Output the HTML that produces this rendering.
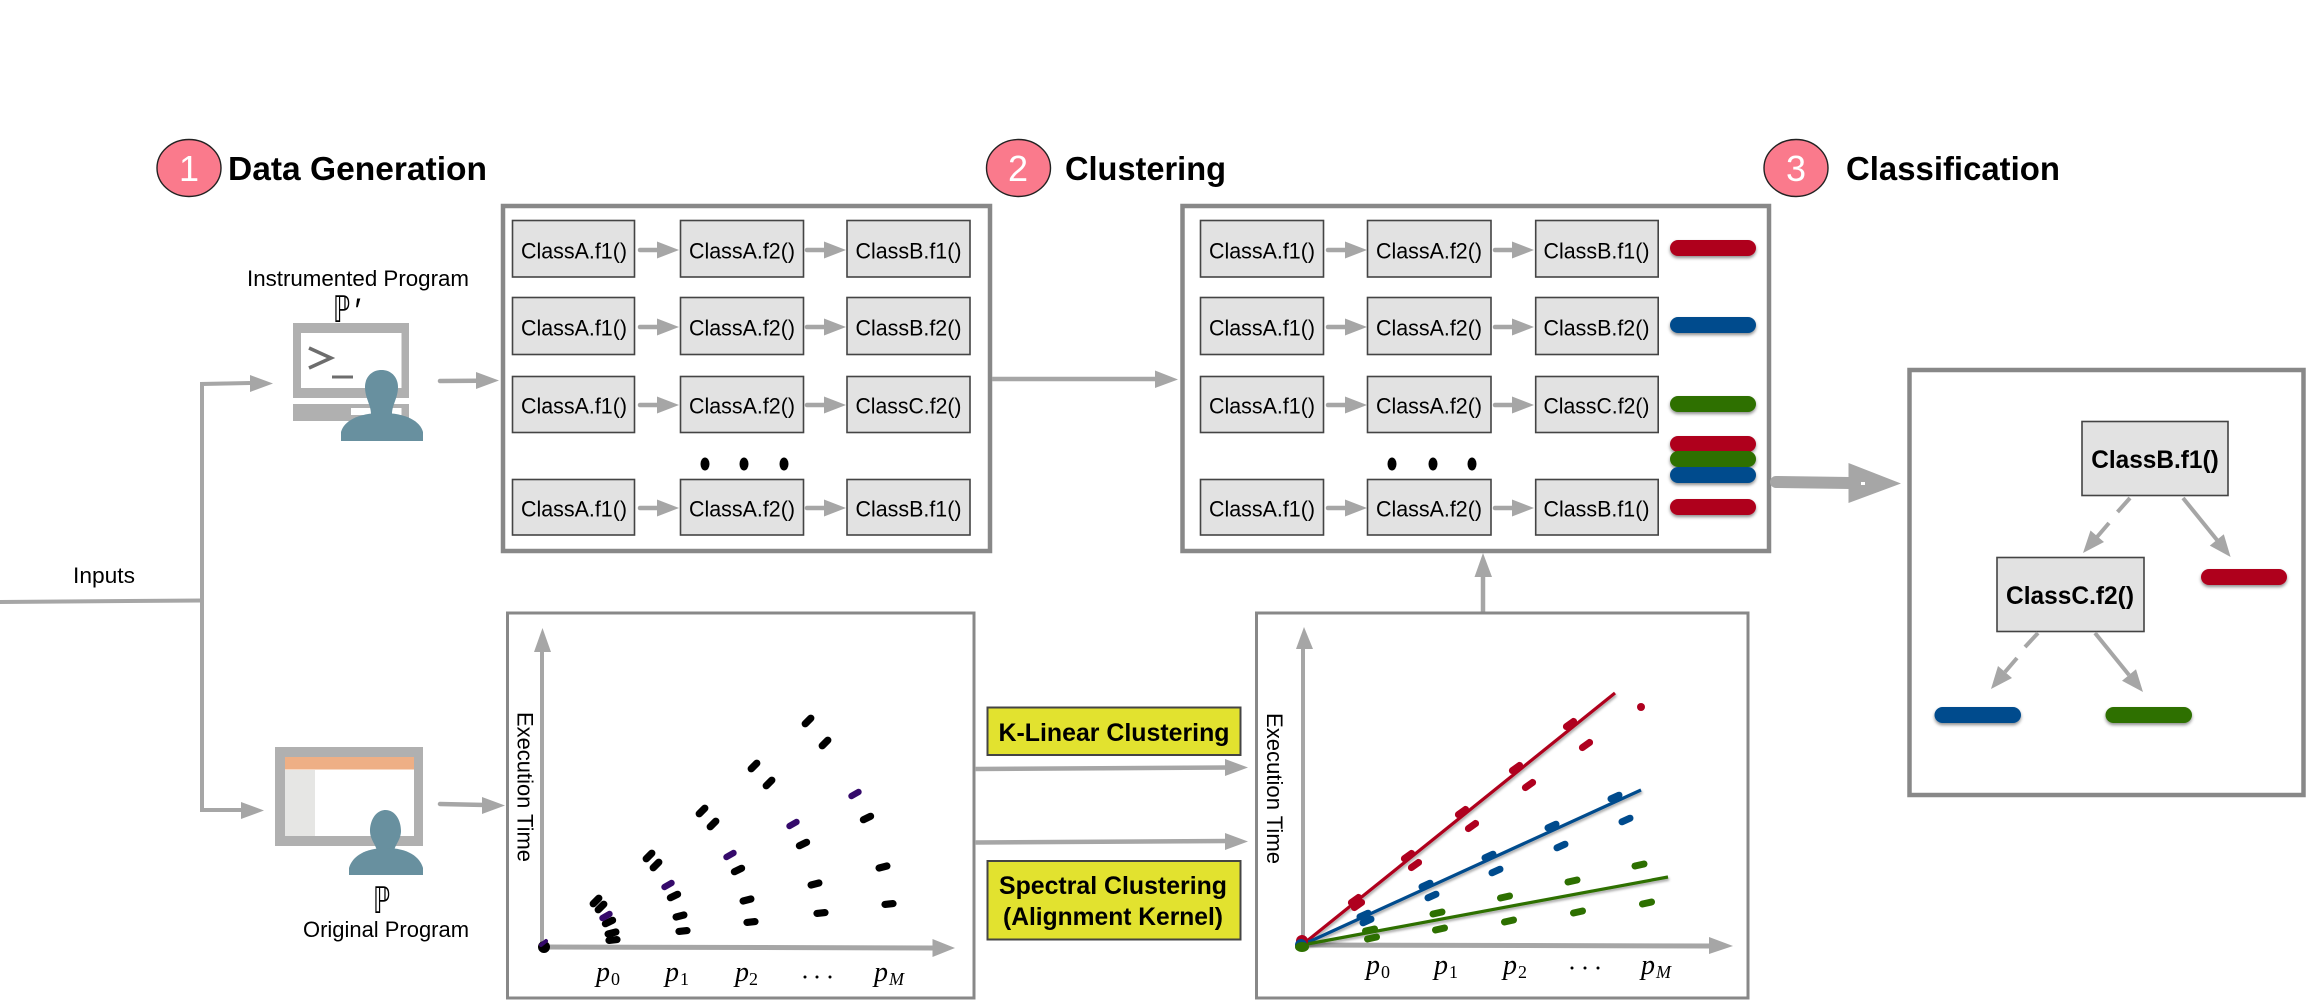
<!DOCTYPE html>
<html><head><meta charset="utf-8"><title>Pipeline</title>
<style>
html,body{margin:0;padding:0;background:#fff}
svg{display:block}
text{font-family:"Liberation Sans",sans-serif;fill:#000}
.h{font-weight:700;font-size:33px}
.n{font-size:36px;fill:#fff;text-anchor:middle}
.c{font-size:22.5px;text-anchor:middle}
.l{font-size:22px}
.b{font-weight:700;font-size:25px;text-anchor:middle}
.p{font-family:"Liberation Serif",serif;font-style:italic;font-size:28px}
.s{font-family:"Liberation Serif",serif;font-size:18px}
.m{font-family:"DejaVu Sans",sans-serif;font-size:34px;font-weight:400}
.box{fill:#e2e2e2;stroke:#444;stroke-width:1.6}
.fr{fill:#fff;stroke:#888;stroke-width:4.5}
.fr2{fill:#fff;stroke:#888;stroke-width:3}
.ln{stroke:#a6a6a6;stroke-width:4;fill:none}
.hd{fill:#a6a6a6}
.per{fill:#68909f}
</style></head>
<body>
<svg xmlns="http://www.w3.org/2000/svg" width="2306" height="1005" viewBox="0 0 2306 1005">
<defs>
<filter id="sh" x="-20%" y="-60%" width="140%" height="240%"><feDropShadow dx="0" dy="2" stdDeviation="1.5" flood-color="#000" flood-opacity=".45"/></filter>
<filter id="sl" x="-5%" y="-5%" width="110%" height="110%"><feDropShadow dx="1" dy="2" stdDeviation="1.2" flood-color="#000" flood-opacity=".35"/></filter>
<g id="sa"><line x1="0" y1="0" x2="18" y2="0" stroke="#a6a6a6" stroke-width="4.5" stroke-linecap="round"/><polygon points="17,-8.5 39,0 17,8.5" fill="#a6a6a6"/></g>
<line id="d1" x1="-2.8" y1="2.8" x2="2.8" y2="-2.8" stroke-width="7.2" stroke-linecap="round"/>
<line id="d3" x1="-3.5" y1="2" x2="3.5" y2="-2" stroke-width="6.4" stroke-linecap="round"/>
<line id="d4" x1="-3.6" y1="1.7" x2="3.6" y2="-1.7" stroke-width="7.2" stroke-linecap="round"/>
<line id="d5" x1="-3.9" y1="1" x2="3.9" y2="-1" stroke-width="7.2" stroke-linecap="round"/>
<line id="d6" x1="-4" y1=".4" x2="4" y2="-.4" stroke-width="7.2" stroke-linecap="round"/>
<line id="r" x1="-3.6" y1="2.6" x2="3.6" y2="-2.6" stroke-width="7" stroke-linecap="round"/>
<line id="u" x1="-4" y1="1.8" x2="4" y2="-1.8" stroke-width="7" stroke-linecap="round"/>
<line id="g" x1="-4.5" y1="1" x2="4.5" y2="-1" stroke-width="7" stroke-linecap="round"/>
</defs>

<!-- headers -->
<ellipse cx="189" cy="168" rx="32" ry="28.5" fill="#fa7a8c" stroke="#222" stroke-width="1.4"/>
<text class="n" x="189" y="181">1</text>
<text class="h" x="228" y="180" textLength="259" lengthAdjust="spacingAndGlyphs">Data Generation</text>
<ellipse cx="1018.5" cy="168" rx="32" ry="28.5" fill="#fa7a8c" stroke="#222" stroke-width="1.4"/>
<text class="n" x="1018" y="181">2</text>
<text class="h" x="1065" y="180" textLength="161" lengthAdjust="spacingAndGlyphs">Clustering</text>
<ellipse cx="1796" cy="168" rx="32" ry="28.5" fill="#fa7a8c" stroke="#222" stroke-width="1.4"/>
<text class="n" x="1796" y="181">3</text>
<text class="h" x="1846" y="180" textLength="214" lengthAdjust="spacingAndGlyphs">Classification</text>

<!-- inputs -->
<text class="l" x="73" y="583" textLength="62" lengthAdjust="spacingAndGlyphs">Inputs</text>
<polyline class="ln" points="0,602 202,600.5"/>
<polyline class="ln" points="250,383 202,384 202,810 243,810"/>
<polygon class="hd" points="250,375 273,383.5 250,392"/>
<polygon class="hd" points="241,802 264,810.5 241,819"/>

<!-- instrumented program -->
<text class="l" x="247" y="286" textLength="222" lengthAdjust="spacingAndGlyphs">Instrumented Program</text>
<text class="m" transform="translate(333,322) scale(.72,1.08)">ℙ</text><text x="353" y="322" font-size="34" font-style="italic" font-family="Liberation Serif,serif">′</text>
<rect x="293" y="323" width="116" height="75" fill="#b0b0b0"/>
<rect x="301" y="333" width="100.5" height="55" fill="#fff"/>
<rect x="293" y="404" width="116" height="17" fill="#b0b0b0"/>
<rect x="351" y="408" width="50.5" height="7" fill="#fff"/>
<polyline points="309,348 331,358 309,368" fill="none" stroke="#6d6d6d" stroke-width="3.5"/>
<rect x="332" y="375.5" width="21" height="3" fill="#6d6d6d"/>
<path class="per" d="M381.5 370C392 370 398 378 398 387C398 398 392 405 392 414H371C371 405 365 398 365 387C365 378 371 370 381.5 370Z"/>
<path class="per" d="M341 441V432C344 421 358 413 382 413C406 413 420 421 423 432V441Z"/>
<line x1="440" y1="381" x2="478" y2="380.7" stroke="#a6a6a6" stroke-width="4.5" stroke-linecap="round"/>
<polygon class="hd" points="476,372 499,380.5 476,389"/>

<!-- original program -->
<rect x="275" y="747" width="148" height="99" fill="#b0b0b0"/>
<rect x="285" y="757" width="129" height="79" fill="#fff"/>
<rect x="285" y="757" width="129" height="12.5" fill="#eeaf85"/>
<rect x="285" y="770" width="30" height="66" fill="#e6e6e4"/>
<path class="per" d="M385.5 810C395 810 401 820 401 831C401 840 394 846 394 852H377C377 846 370 840 370 831C370 820 376 810 385.5 810Z"/>
<path class="per" d="M349 875V868C352 857 364 848 386 848C408 848 420 857 423 868V875Z"/>
<text class="m" transform="translate(373,913) scale(.72,1.08)">ℙ</text>
<text class="l" x="303" y="937" textLength="166" lengthAdjust="spacingAndGlyphs">Original Program</text>
<line x1="440" y1="804" x2="485" y2="805" stroke="#a6a6a6" stroke-width="4.5" stroke-linecap="round"/>
<polygon class="hd" points="482,797 505,805.5 482,814"/>

<!-- box 1 -->
<rect class="fr" x="503" y="206" width="487" height="345"/>
<g>
<rect class="box" x="512.5" y="220.5" width="122" height="56.5"/><rect class="box" x="680.5" y="220.5" width="123" height="56.5"/><rect class="box" x="847" y="220.5" width="123" height="56.5"/>
<rect class="box" x="512.5" y="297.5" width="122" height="57"/><rect class="box" x="680.5" y="297.5" width="123" height="57"/><rect class="box" x="847" y="297.5" width="123" height="57"/>
<rect class="box" x="512.5" y="376.5" width="122" height="56"/><rect class="box" x="680.5" y="376.5" width="123" height="56"/><rect class="box" x="847" y="376.5" width="123" height="56"/>
<rect class="box" x="512.5" y="479.5" width="122" height="55.5"/><rect class="box" x="680.5" y="479.5" width="123" height="55.5"/><rect class="box" x="847" y="479.5" width="123" height="55.5"/>
</g>
<g>
<text class="c" x="574" y="258.5" textLength="106" lengthAdjust="spacingAndGlyphs">ClassA.f1()</text><text class="c" x="742" y="258.5" textLength="106" lengthAdjust="spacingAndGlyphs">ClassA.f2()</text><text class="c" x="908.5" y="258.5" textLength="106" lengthAdjust="spacingAndGlyphs">ClassB.f1()</text>
<text class="c" x="574" y="335.5" textLength="106" lengthAdjust="spacingAndGlyphs">ClassA.f1()</text><text class="c" x="742" y="335.5" textLength="106" lengthAdjust="spacingAndGlyphs">ClassA.f2()</text><text class="c" x="908.5" y="335.5" textLength="106" lengthAdjust="spacingAndGlyphs">ClassB.f2()</text>
<text class="c" x="574" y="413.5" textLength="106" lengthAdjust="spacingAndGlyphs">ClassA.f1()</text><text class="c" x="742" y="413.5" textLength="106" lengthAdjust="spacingAndGlyphs">ClassA.f2()</text><text class="c" x="908.5" y="413.5" textLength="106" lengthAdjust="spacingAndGlyphs">ClassC.f2()</text>
<text class="c" x="574" y="516.5" textLength="106" lengthAdjust="spacingAndGlyphs">ClassA.f1()</text><text class="c" x="742" y="516.5" textLength="106" lengthAdjust="spacingAndGlyphs">ClassA.f2()</text><text class="c" x="908.5" y="516.5" textLength="106" lengthAdjust="spacingAndGlyphs">ClassB.f1()</text>
</g>
<use href="#sa" x="640" y="250"/><use href="#sa" x="807" y="250"/>
<use href="#sa" x="640" y="327"/><use href="#sa" x="807" y="327"/>
<use href="#sa" x="640" y="405"/><use href="#sa" x="807" y="405"/>
<use href="#sa" x="640" y="508"/><use href="#sa" x="807" y="508"/>
<ellipse cx="705" cy="464" rx="4.5" ry="6.5"/><ellipse cx="744" cy="464" rx="4.5" ry="6.5"/><ellipse cx="784" cy="464" rx="4.5" ry="6.5"/>

<!-- box1 to box2 -->
<line x1="992" y1="379" x2="1157" y2="379" stroke="#a6a6a6" stroke-width="4.5"/>
<polygon class="hd" points="1155,370.5 1178,379.5 1155,388"/>

<!-- box 2 -->
<rect class="fr" x="1182.5" y="206" width="586.5" height="345"/>
<g>
<rect class="box" x="1200.5" y="220.5" width="123" height="56.5"/><rect class="box" x="1367.5" y="220.5" width="123.5" height="56.5"/><rect class="box" x="1535.7" y="220.5" width="122.5" height="56.5"/>
<rect class="box" x="1200.5" y="297.5" width="123" height="57"/><rect class="box" x="1367.5" y="297.5" width="123.5" height="57"/><rect class="box" x="1535.7" y="297.5" width="122.5" height="57"/>
<rect class="box" x="1200.5" y="376.5" width="123" height="56"/><rect class="box" x="1367.5" y="376.5" width="123.5" height="56"/><rect class="box" x="1535.7" y="376.5" width="122.5" height="56"/>
<rect class="box" x="1200.5" y="479.5" width="123" height="55.5"/><rect class="box" x="1367.5" y="479.5" width="123.5" height="55.5"/><rect class="box" x="1535.7" y="479.5" width="122.5" height="55.5"/>
</g>
<g>
<text class="c" x="1262" y="258.5" textLength="106" lengthAdjust="spacingAndGlyphs">ClassA.f1()</text><text class="c" x="1429" y="258.5" textLength="106" lengthAdjust="spacingAndGlyphs">ClassA.f2()</text><text class="c" x="1596.5" y="258.5" textLength="106" lengthAdjust="spacingAndGlyphs">ClassB.f1()</text>
<text class="c" x="1262" y="335.5" textLength="106" lengthAdjust="spacingAndGlyphs">ClassA.f1()</text><text class="c" x="1429" y="335.5" textLength="106" lengthAdjust="spacingAndGlyphs">ClassA.f2()</text><text class="c" x="1596.5" y="335.5" textLength="106" lengthAdjust="spacingAndGlyphs">ClassB.f2()</text>
<text class="c" x="1262" y="413.5" textLength="106" lengthAdjust="spacingAndGlyphs">ClassA.f1()</text><text class="c" x="1429" y="413.5" textLength="106" lengthAdjust="spacingAndGlyphs">ClassA.f2()</text><text class="c" x="1596.5" y="413.5" textLength="106" lengthAdjust="spacingAndGlyphs">ClassC.f2()</text>
<text class="c" x="1262" y="516.5" textLength="106" lengthAdjust="spacingAndGlyphs">ClassA.f1()</text><text class="c" x="1429" y="516.5" textLength="106" lengthAdjust="spacingAndGlyphs">ClassA.f2()</text><text class="c" x="1596.5" y="516.5" textLength="106" lengthAdjust="spacingAndGlyphs">ClassB.f1()</text>
</g>
<use href="#sa" x="1328" y="250"/><use href="#sa" x="1495" y="250"/>
<use href="#sa" x="1328" y="327"/><use href="#sa" x="1495" y="327"/>
<use href="#sa" x="1328" y="405"/><use href="#sa" x="1495" y="405"/>
<use href="#sa" x="1328" y="508"/><use href="#sa" x="1495" y="508"/>
<ellipse cx="1392" cy="464" rx="4.5" ry="6.5"/><ellipse cx="1433" cy="464" rx="4.5" ry="6.5"/><ellipse cx="1472" cy="464" rx="4.5" ry="6.5"/>
<g filter="url(#sh)">
<rect x="1670" y="240" width="86" height="16" rx="8" fill="#af001f"/>
<rect x="1670" y="317" width="86" height="16" rx="8" fill="#004b8d"/>
<rect x="1670" y="396" width="86" height="16" rx="8" fill="#2d7000"/>
<rect x="1670" y="436" width="86" height="16" rx="8" fill="#af001f"/>
<rect x="1670" y="451" width="86" height="16" rx="8" fill="#2d7000"/>
<rect x="1670" y="467" width="86" height="16" rx="8" fill="#004b8d"/>
<rect x="1670" y="499" width="86" height="16" rx="8" fill="#af001f"/>
</g>

<!-- to box 3 -->
<line x1="1776" y1="482" x2="1850" y2="483" stroke="#a6a6a6" stroke-width="12" stroke-linecap="round"/>
<polygon class="hd" points="1848.5,463 1901,483.5 1848.5,503"/>
<rect x="1861" y="482" width="4" height="3" fill="#fff"/>

<!-- box 3 -->
<rect class="fr" x="1909.5" y="370" width="394" height="425"/>
<rect class="box" x="2082" y="421.5" width="146" height="74"/>
<text class="b" x="2155" y="468" font-size="24.5" textLength="127.5" lengthAdjust="spacingAndGlyphs">ClassB.f1()</text>
<rect class="box" x="1997" y="557.5" width="147" height="74"/>
<text class="b" x="2070" y="604" textLength="128" lengthAdjust="spacingAndGlyphs">ClassC.f2()</text>
<line class="ln" x1="2130" y1="498" x2="2117.5" y2="512"/>
<line class="ln" x1="2109" y1="523" x2="2097" y2="537"/>
<polygon class="hd" points="2083,553 2104,542 2090.5,530.5"/>
<line class="ln" x1="2183" y1="498" x2="2217" y2="540"/>
<polygon class="hd" points="2230.6,557 2209.8,545.6 2223.8,534.2"/>
<line class="ln" x1="2038" y1="633" x2="2025" y2="647"/>
<line class="ln" x1="2017" y1="658" x2="2005" y2="672"/>
<polygon class="hd" points="1991,689 2012,678 1998,666"/>
<line class="ln" x1="2095" y1="633" x2="2129" y2="675"/>
<polygon class="hd" points="2143,692 2122,680.7 2136,669.3"/>
<g filter="url(#sh)">
<rect x="2201" y="569" width="86" height="16" rx="8" fill="#af001f"/>
<rect x="1934.5" y="707" width="86.5" height="16" rx="8" fill="#004b8d"/>
<rect x="2105.5" y="707" width="86.5" height="16" rx="8" fill="#2d7000"/>
</g>

<!-- plot 1 -->
<rect class="fr2" x="507.5" y="613" width="466.5" height="385"/>
<line class="ln" x1="542" y1="947" x2="542" y2="650"/>
<polygon class="hd" points="534,652 542.5,628 551,652"/>
<line x1="542" y1="947" x2="935" y2="948" stroke="#a6a6a6" stroke-width="5"/>
<polygon class="hd" points="932.5,939 955,948 932.5,957"/>
<text class="l" transform="translate(517.5,712) rotate(90)" textLength="150" lengthAdjust="spacingAndGlyphs">Execution Time</text>
<text class="p" x="596" y="981">p</text><text class="s" x="611" y="985">0</text>
<text class="p" x="665" y="981">p</text><text class="s" x="680" y="985">1</text>
<text class="p" x="735" y="981">p</text><text class="s" x="749" y="985">2</text>
<circle cx="805" cy="977" r="1.5"/><circle cx="817" cy="977" r="1.5"/><circle cx="830" cy="977" r="1.5"/>
<text class="p" x="874" y="981">p</text><text class="s" x="889" y="985" font-style="italic" font-size="20">M</text>
<g stroke="#000">
<circle cx="544" cy="947" r="6" fill="#000" stroke="none"/>
<use href="#d1" x="596" y="901"/><use href="#d1" x="601" y="907"/><use href="#d4" x="609" y="922"/><use href="#d5" x="612" y="933"/><use href="#d6" x="613" y="940"/>
<use href="#d1" x="649" y="856"/><use href="#d1" x="656" y="865"/><use href="#d4" x="674" y="896"/><use href="#d5" x="680" y="916"/><use href="#d6" x="683" y="931"/>
<use href="#d1" x="702" y="811"/><use href="#d1" x="713" y="824"/><use href="#d4" x="738" y="870"/><use href="#d5" x="747" y="900"/><use href="#d6" x="751" y="922"/>
<use href="#d1" x="754" y="766"/><use href="#d1" x="769" y="783"/><use href="#d4" x="803" y="844"/><use href="#d5" x="815" y="884"/><use href="#d6" x="821" y="913"/>
<use href="#d1" x="808" y="721"/><use href="#d1" x="825" y="743"/><use href="#d4" x="867" y="818"/><use href="#d5" x="883" y="867"/><use href="#d6" x="889" y="904"/>
</g>
<g stroke="#350a6b">
<use href="#d3" x="606" y="916"/><use href="#d3" x="668" y="885"/><use href="#d3" x="730" y="855"/><use href="#d3" x="793" y="824"/><use href="#d3" x="855" y="794"/>
<path d="M541 945L546 941" stroke-width="4" stroke-linecap="round" fill="none"/>
</g>

<!-- methods -->
<rect x="987.5" y="707.5" width="253" height="47.5" fill="#e2e22f" stroke="#444" stroke-width="2"/>
<text class="b" x="1114" y="741" textLength="231" lengthAdjust="spacingAndGlyphs">K-Linear Clustering</text>
<rect x="987.5" y="861" width="253" height="78.5" fill="#e2e22f" stroke="#444" stroke-width="2"/>
<text class="b" x="1113" y="894" textLength="228" lengthAdjust="spacingAndGlyphs">Spectral Clustering</text>
<text class="b" x="1113" y="925" textLength="220" lengthAdjust="spacingAndGlyphs">(Alignment Kernel)</text>
<line x1="975" y1="769" x2="1228" y2="767.5" stroke="#a6a6a6" stroke-width="4.5"/>
<polygon class="hd" points="1225,759 1248,767.5 1225,776"/>
<line x1="975" y1="842.5" x2="1228" y2="841" stroke="#a6a6a6" stroke-width="4.5"/>
<polygon class="hd" points="1225,833 1248,841.5 1225,850"/>

<!-- up arrow -->
<line x1="1483" y1="612" x2="1483" y2="575" stroke="#a6a6a6" stroke-width="4.5"/>
<polygon class="hd" points="1474.5,577 1483,553 1492,577"/>

<!-- plot 2 -->
<rect class="fr2" x="1256.5" y="613" width="491.5" height="385"/>
<line class="ln" x1="1303" y1="946" x2="1303" y2="647"/>
<polygon class="hd" points="1296,649 1304,627 1313,649"/>
<line x1="1303" y1="945" x2="1712" y2="946" stroke="#a6a6a6" stroke-width="5"/>
<polygon class="hd" points="1709,937 1733,946 1709,954"/>
<text class="l" transform="translate(1267,713) rotate(90)" textLength="151" lengthAdjust="spacingAndGlyphs">Execution Time</text>
<text class="p" x="1366" y="974">p</text><text class="s" x="1381" y="978">0</text>
<text class="p" x="1434" y="974">p</text><text class="s" x="1449" y="978">1</text>
<text class="p" x="1503" y="974">p</text><text class="s" x="1518" y="978">2</text>
<circle cx="1572" cy="968" r="1.5"/><circle cx="1585" cy="968" r="1.5"/><circle cx="1598" cy="968" r="1.5"/>
<text class="p" x="1641" y="974">p</text><text class="s" x="1656" y="978" font-style="italic" font-size="20">M</text>
<g filter="url(#sl)" fill="none" stroke-width="3.2">
<line x1="1302" y1="945" x2="1615" y2="693" stroke="#af001f"/>
<line x1="1302" y1="945" x2="1641" y2="790" stroke="#004b8d"/>
<line x1="1302" y1="945" x2="1668" y2="877" stroke="#2d7000"/>
</g>
<g stroke="#af001f">
<circle cx="1302" cy="941" r="6" fill="#af001f" stroke="none"/>
<use href="#r" x="1355" y="900"/><use href="#r" x="1358" y="905"/><use href="#r" x="1408" y="856"/><use href="#r" x="1415" y="865"/><use href="#r" x="1462" y="812"/><use href="#r" x="1472" y="826"/><use href="#r" x="1516" y="768"/><use href="#r" x="1529" y="785"/><use href="#r" x="1570" y="724"/><use href="#r" x="1586" y="745"/>
<circle cx="1641" cy="707" r="4" fill="#af001f" stroke="none"/>
</g>
<g stroke="#004b8d">
<circle cx="1301" cy="945" r="6" fill="#004b8d" stroke="none"/>
<use href="#u" x="1364" y="915"/><use href="#u" x="1367" y="921"/><use href="#u" x="1426" y="885"/><use href="#u" x="1432" y="896"/><use href="#u" x="1489" y="856"/><use href="#u" x="1496" y="871"/><use href="#u" x="1552" y="826"/><use href="#u" x="1561" y="846"/><use href="#u" x="1615" y="797"/><use href="#u" x="1626" y="820"/>
</g>
<g stroke="#2d7000">
<ellipse cx="1302" cy="947" rx="7" ry="5" fill="#2d7000" stroke="none"/>
<use href="#g" x="1370" y="930"/><use href="#g" x="1372" y="938"/><use href="#g" x="1437.5" y="913"/><use href="#g" x="1440" y="929"/><use href="#g" x="1505" y="897"/><use href="#g" x="1509" y="921"/><use href="#g" x="1572.5" y="881"/><use href="#g" x="1578" y="912"/><use href="#g" x="1639.5" y="865"/><use href="#g" x="1647" y="903"/>
</g>
</svg>
</body></html>
